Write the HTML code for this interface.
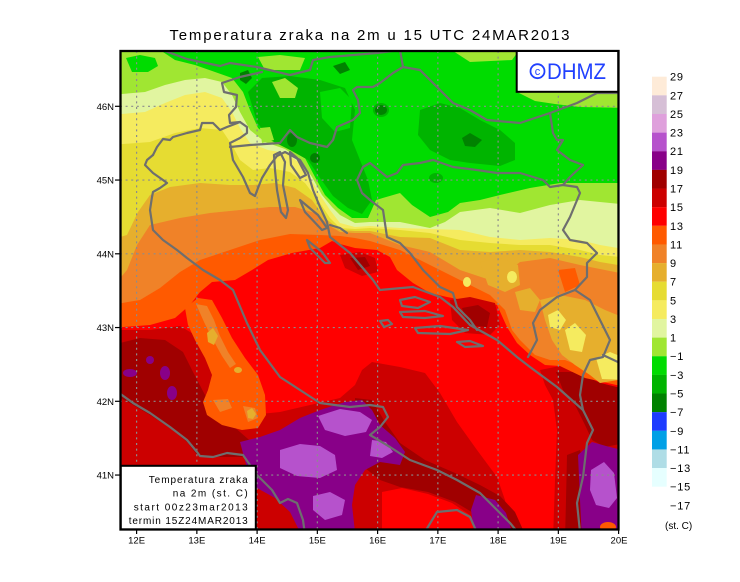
<!DOCTYPE html>
<html><head><meta charset="utf-8"><style>
html,body{margin:0;padding:0;background:#fff;overflow:hidden;width:740px;height:582px}
svg{display:block}
text{font-family:"Liberation Sans",sans-serif;fill:#000}
</style></head><body>
<svg width="740" height="582" viewBox="0 0 740 582" xmlns="http://www.w3.org/2000/svg">
<defs><clipPath id="c"><rect x="120" y="51" width="498" height="478"/></clipPath></defs>
<rect width="740" height="582" fill="#fff"/>
<g clip-path="url(#c)">
<rect x="110" y="40" width="520" height="500" fill="#ff0000"/>
<!-- lower field -->
<polygon fill="#cc0000" points="110,330 150,330 180,326 195,335 205,355 215,380 230,400 250,415 280,412 310,405 340,398 355,385 362,370 372,362 400,367 425,373 440,393 457,422 477,450 497,477 505,500 510,540 110,540"/>
<polygon fill="#a00000" points="120,343 140,338 165,340 183,352 193,372 205,395 220,415 240,432 255,445 245,457 220,457 197,455 187,442 170,428 150,415 133,405 115,395 115,343"/>
<ellipse cx="150" cy="360" rx="4" ry="4" fill="#880088"/>
<ellipse cx="130" cy="373" rx="7" ry="4" fill="#880088"/>
<ellipse cx="165" cy="373" rx="5" ry="7" fill="#880088"/>
<ellipse cx="172" cy="393" rx="5" ry="7" fill="#880088"/>
<polygon fill="#a00000" points="355,398 372,400 385,422 400,443 425,460 455,473 480,485 500,496 515,512 524,532 488,532 475,514 455,502 428,492 400,487 380,480 365,468 355,440"/>
<polygon fill="#ff0000" points="382,492 402,488 428,494 452,503 470,515 482,532 382,532"/>
<polygon fill="#cc0000" points="540,370 560,366 585,378 618,388 630,390 630,462 600,455 585,468 580,540 553,540 555,480 557,430 553,400 545,385"/>
<polygon fill="#a00000" points="556,372 578,372 600,383 630,390 630,442 605,447 592,440 585,425 575,405 563,390"/>
<polygon fill="#a00000" points="567,455 580,450 585,470 582,540 565,540 566,500"/>
<polygon fill="#880088" points="578,455 592,442 606,446 630,452 630,540 582,540 580,500"/>
<polygon fill="#b652cc" points="591,470 604,462 614,473 617,498 609,508 596,505 590,490"/>
<ellipse cx="608" cy="527" rx="8" ry="5" fill="#ff5a00"/>
<polygon fill="#880088" points="240,442 260,437 280,430 300,418 320,410 345,402 362,400 372,410 380,425 395,438 405,452 400,465 380,462 365,470 355,485 352,505 355,532 300,532 290,512 275,498 257,488 247,468"/>
<polygon fill="#880088" points="476,495 495,500 506,513 512,532 474,532 471,510"/>
<polygon fill="#b652cc" points="280,450 300,444 320,446 335,455 337,470 320,478 297,476 280,468"/>
<polygon fill="#b652cc" points="318,416 340,409 360,412 372,420 366,432 345,436 325,430"/>
<polygon fill="#b652cc" points="372,440 386,442 393,452 382,458 370,456"/>
<polygon fill="#b652cc" points="313,496 330,492 345,500 342,515 325,520 313,510"/>
<!-- upper bands -->
<polygon fill="#ff5a00" points="110,40 110,328 150,325 175,318 190,305 200,292 212,282 235,280 252,270 268,260 292,253 320,248 332,241 340,244 355,248 377,250 390,257 397,270 413,283 430,293 447,297 463,300 480,300 497,305 507,327 517,343 530,355 545,365 560,366 585,378 630,388 630,40"/>
<polygon fill="#f08228" points="110,40 110,305 140,300 160,288 180,272 200,260 230,250 260,240 290,234 320,235 340,236 355,238 370,241 400,250 430,265 460,280 490,295 505,310 512,330 520,340 535,355 550,360 565,360 590,370 630,378 630,40"/>
<polygon fill="#e6af2d" points="110,40 110,290 127,270 137,245 150,225 180,218 210,213 240,210 270,207 295,207 315,213 330,226 340,232 355,233 370,233 400,245 430,252 460,270 490,280 510,270 520,262 550,258 580,265 630,275 630,40"/>
<polygon fill="#e6dc32" points="110,40 110,240 127,235 138,212 150,195 170,187 200,183 230,185 253,185 275,183 295,188 312,200 325,218 340,230 355,231 370,231 400,237 430,238 460,250 490,252 520,250 550,252 580,257 600,262 630,267 630,40"/>
<polygon fill="#f5eb5f" points="110,40 110,145 150,142 175,133 200,128 222,130 232,145 240,160 253,170 270,168 290,172 305,183 318,200 330,218 340,228 355,229 370,228 400,230 430,233 460,240 490,243 520,245 550,245 580,250 600,255 630,258 630,40"/>
<polygon fill="#e1f5a0" points="110,40 110,115 145,112 165,103 185,95 205,92 222,98 232,112 240,128 250,143 268,150 285,153 300,163 310,178 320,195 330,210 340,223 355,227 370,226 400,228 430,229 460,230 490,237 520,240 550,238 580,240 600,245 630,250 630,40"/>
<polygon fill="#a0e632" points="110,40 110,95 145,92 165,85 185,80 205,78 222,82 232,95 240,112 250,130 265,142 285,149 300,159 312,177 322,195 332,207 340,215 355,223 370,222 400,222 430,228 445,222 460,212 490,208 520,213 550,205 580,200 600,202 630,205 630,40"/>
<polygon fill="#00dc00" points="160,40 160,50 175,60 195,65 215,72 232,78 243,92 250,110 258,128 270,138 290,145 305,158 315,177 325,195 338,208 352,218 368,218 376,200 400,193 412,205 430,217 448,212 460,203 480,200 500,195 530,188 560,183 630,183 630,40"/>
<polygon fill="#00dc00" points="126,58 140,55 155,58 158,66 148,72 132,72"/>
<polygon fill="#00b400" points="248,92 262,78 290,76 320,80 345,88 355,110 352,140 360,160 368,180 372,200 362,214 348,208 333,196 320,178 308,160 290,150 270,140 257,122"/>
<polygon fill="#00dc00" points="320,92 340,88 352,100 350,128 335,132 322,118"/>
<polygon fill="#00b400" points="420,110 440,103 460,108 480,120 500,130 515,143 515,160 500,166 470,163 450,160 430,150 418,135"/>
<ellipse cx="381" cy="110" rx="8" ry="7" fill="#00b400"/>
<ellipse cx="436" cy="178" rx="7" ry="5" fill="#00b400"/>
<polygon fill="#a0e632" points="258,57 280,55 305,58 300,70 265,70"/>
<polygon fill="#a0e632" points="272,82 285,78 298,88 295,98 280,98"/>
<polygon fill="#a0e632" points="260,128 270,127 274,140 262,143"/>
<polygon fill="#a0e632" points="375,205 395,198 412,205 420,218 400,220 380,220"/>
<polygon fill="#a0e632" points="450,49 520,49 512,60 470,62"/>
<polygon fill="#a0e632" points="517,92 630,92 630,108 580,107 555,104 535,101"/>
<polygon fill="#008200" points="462,138 470,133 482,140 475,147 465,146"/>
<polygon fill="#008200" points="240,73 248,70 252,78 246,84 240,80"/>
<polygon fill="#008200" points="333,66 345,62 350,70 340,74"/>
<ellipse cx="315" cy="158" rx="5" ry="5" fill="#008200"/>
<ellipse cx="292" cy="140" rx="5" ry="7" fill="#008200"/>
<ellipse cx="381" cy="110" rx="6" ry="5" fill="#008200"/>
<!-- patches in orange zone -->
<polygon fill="#e6af2d" points="480,262 500,258 518,265 520,285 505,292 488,285"/>
<polygon fill="#e6af2d" points="515,292 530,288 540,300 535,312 520,310"/>
<polygon fill="#e6af2d" points="540,300 560,295 585,300 605,310 630,320 630,378 600,383 590,375 575,365 562,355 552,340 545,320"/>
<polygon fill="#f5eb5f" points="548,315 558,310 566,320 560,330 550,327"/>
<polygon fill="#f5eb5f" points="565,330 575,323 586,335 582,352 570,350"/>
<polygon fill="#f5eb5f" points="596,358 610,352 630,360 630,380 602,379"/>
<ellipse cx="467" cy="282" rx="4" ry="5" fill="#f5eb5f"/>
<ellipse cx="512" cy="277" rx="5" ry="6" fill="#f5eb5f"/>
<polygon fill="#ff5a00" points="558,270 575,268 580,285 565,292"/>
<polygon fill="#cc0000" points="340,255 360,252 375,258 378,272 362,276 345,268"/>
<polygon fill="#a00000" points="350,258 365,257 370,266 358,270"/>
<polygon fill="#cc0000" points="450,300 470,297 495,303 500,325 490,335 465,333 452,320"/>
<polygon fill="#a00000" points="462,308 478,305 490,313 487,327 468,325"/>
<!-- tongue -->
<polygon fill="#ff5a00" points="185,308 198,298 212,300 222,318 232,338 245,358 258,375 265,395 266,415 258,428 242,430 222,425 207,415 203,402 208,390 212,375 205,358 195,340 188,325"/>
<polygon fill="#f08228" points="196,304 207,306 214,320 220,336 228,352 236,364 230,368 222,356 212,338 204,322"/>
<polygon fill="#f08228" points="213,400 228,399 232,408 220,412"/>
<polygon fill="#f08228" points="243,406 255,408 258,418 248,422"/>
<polygon fill="#e6af2d" points="207,333 213,328 218,336 214,345 208,342"/>
<polygon fill="#e6af2d" points="247,411 252,408 256,414 253,419 248,418"/>
<ellipse cx="238" cy="370" rx="4" ry="3" fill="#e6af2d"/>
<!-- grid -->
<g stroke="#8c8c8c" stroke-width="1.2" stroke-dasharray="2 3.6" fill="none">
<line x1="136.6" y1="51" x2="136.6" y2="529"/><line x1="196.85" y1="51" x2="196.85" y2="529"/>
<line x1="257.1" y1="51" x2="257.1" y2="529"/><line x1="317.35" y1="51" x2="317.35" y2="529"/>
<line x1="377.6" y1="51" x2="377.6" y2="529"/><line x1="437.85" y1="51" x2="437.85" y2="529"/>
<line x1="498.1" y1="51" x2="498.1" y2="529"/><line x1="558.35" y1="51" x2="558.35" y2="529"/>
<line x1="120" y1="106.3" x2="618" y2="106.3"/><line x1="120" y1="180.05" x2="618" y2="180.05"/>
<line x1="120" y1="253.8" x2="618" y2="253.8"/><line x1="120" y1="327.55" x2="618" y2="327.55"/>
<line x1="120" y1="401.3" x2="618" y2="401.3"/><line x1="120" y1="475.05" x2="618" y2="475.05"/>
</g>
<!-- coast & borders -->
<g stroke="#6e6e6e" stroke-width="2.2" fill="none" stroke-linejoin="round" stroke-linecap="round">
<path d="M153,155 L157,147 163,139 170,140 173,137 187,133 200,130 202,123 213,123 220,130 227,127 240,122 247,127 247,133 240,138 230,143 233,160 243,177 250,193 255,196 258,188 262,178 270,165 277,156 285,152 300,160 308,173 313,190 320,207 327,222 330,237 350,253 373,280 380,290 413,287 440,297 453,307 470,325 497,340 517,357 530,367 557,387 583,410 593,430 587,443 583,477 577,503 580,532"/>
<path d="M153,155 L147,160 145,165 153,173 163,180 167,183 160,188 153,192 152,197 150,210 153,230 163,240 177,250 187,258 203,270 220,280 233,290 247,323 260,350 280,377 300,390 320,403 350,407 370,405 383,407 388,417 380,427 370,435 390,447 410,460 437,470 457,480 480,493 497,510 510,523 520,535"/>
<path d="M115,390 L133,403 150,413 170,427 187,440 197,452 200,456 213,457 227,453 243,455 257,475 272,490 280,503 288,499 297,503 303,520 305,535"/>
<path d="M423,535 L437,512 457,510 470,517 478,535"/>
<path d="M157,48 L187,59 220,66 230,63 257,67 290,75 310,70 313,60 330,57 377,53 400,50 403,67 420,70"/>
<path d="M230,147 L250,145 280,143 290,130 297,137 310,143 327,147 333,140 337,127 353,120 360,113 358,100 353,90 357,87 373,87 380,83 393,73 403,67"/>
<path d="M420,70 L430,80 453,103 470,110 487,120 520,123 550,113 577,103 597,93 625,93"/>
<path d="M262,72 L240,77 222,83 224,92 237,95 236,107 229,115 230,123 240,122"/>
<path d="M583,165 L570,177 563,185 550,187 543,180 520,173 497,173 477,170 453,167 433,160 420,163 403,165 397,173 387,177 370,163 363,167 357,180 362,193 370,200 383,210 387,237 400,243 410,253 423,270 440,287 453,293 457,307 470,320 477,330"/>
<path d="M550,113 L553,133 557,140 563,140 557,150 570,160 583,165"/>
<path d="M563,185 L577,187 580,193 570,217 563,230 570,240 587,243 597,253 587,263 587,277 575,290 557,297 540,310 533,323 537,340 528,357"/>
<path d="M575,290 L590,300 600,320 610,340 603,357 590,360 583,375 580,395 583,410"/>
<path d="M603,355 L620,363"/>
<path d="M274,155 L280,152 285,162 283,185 288,210 286,218 281,212 277,190 275,170 Z"/>
<path d="M290,152 L297,158 306,175 300,178 291,165 Z"/>
<path d="M300,200 L318,215 327,228 322,230 305,212 Z"/>
<path d="M307,240 L322,252 330,263 325,263 310,248 Z"/>
<path d="M330,225 L340,228 347,233"/>
<path d="M400,300 L415,297 430,302 418,308 402,306 Z"/>
<path d="M400,312 L425,311 443,316 425,318 403,317 Z"/>
<path d="M380,321 L388,320 392,324 384,327 Z"/>
<path d="M415,328 L440,326 468,330 450,334 418,333 Z"/>
<path d="M457,342 L470,341 483,346 465,347 Z"/>
</g>
</g>
<!-- frame -->
<rect x="120.5" y="51" width="498" height="478.5" fill="none" stroke="#000" stroke-width="2.3"/>
<g stroke="#000" stroke-width="1.2">
<line x1="115" y1="106.3" x2="120" y2="106.3"/><line x1="115" y1="180.05" x2="120" y2="180.05"/>
<line x1="115" y1="253.8" x2="120" y2="253.8"/><line x1="115" y1="327.55" x2="120" y2="327.55"/>
<line x1="115" y1="401.3" x2="120" y2="401.3"/><line x1="115" y1="475.05" x2="120" y2="475.05"/>
<line x1="136.6" y1="530" x2="136.6" y2="534"/><line x1="196.85" y1="530" x2="196.85" y2="534"/>
<line x1="257.1" y1="530" x2="257.1" y2="534"/><line x1="317.35" y1="530" x2="317.35" y2="534"/>
<line x1="377.6" y1="530" x2="377.6" y2="534"/><line x1="437.85" y1="530" x2="437.85" y2="534"/>
<line x1="498.1" y1="530" x2="498.1" y2="534"/><line x1="558.35" y1="530" x2="558.35" y2="534"/>
<line x1="618.6" y1="530" x2="618.6" y2="534"/>
</g>
<g font-size="9.5" text-anchor="end">
<text x="114" y="109.8">46N</text><text x="114" y="183.5">45N</text><text x="114" y="257.3">44N</text>
<text x="114" y="331">43N</text><text x="114" y="404.8">42N</text><text x="114" y="478.5">41N</text>
</g>
<g font-size="9.5" text-anchor="middle">
<text x="136.6" y="543.5">12E</text><text x="196.85" y="543.5">13E</text><text x="257.1" y="543.5">14E</text>
<text x="317.35" y="543.5">15E</text><text x="377.6" y="543.5">16E</text><text x="437.85" y="543.5">17E</text>
<text x="498.1" y="543.5">18E</text><text x="558.35" y="543.5">19E</text><text x="619" y="543.5">20E</text>
</g>
<!-- title -->
<text x="169.5" y="40" font-size="15" textLength="400" lengthAdjust="spacing">Temperatura zraka na 2m u 15 UTC 24MAR2013</text>
<!-- DHMZ box -->
<rect x="516.7" y="51" width="101.5" height="40.8" fill="#fff" stroke="#000" stroke-width="2"/>
<circle cx="537.5" cy="71.2" r="7" fill="none" stroke="#2040ff" stroke-width="1.8"/>
<text x="537.5" y="75" font-size="11" text-anchor="middle" style="fill:#2040ff">c</text>
<text x="547" y="79" font-size="22" textLength="59" lengthAdjust="spacingAndGlyphs" style="fill:#2040ff">DHMZ</text>
<!-- legend box -->
<rect x="120.8" y="465.8" width="135" height="63.5" fill="#fff" stroke="#000" stroke-width="2"/>
<g font-size="10" text-anchor="end">
<text x="247.7" y="483" textLength="99" lengthAdjust="spacing">Temperatura zraka</text>
<text x="247.7" y="496.7" textLength="75" lengthAdjust="spacing">na 2m (st. C)</text>
<text x="247.7" y="510.5" textLength="114" lengthAdjust="spacing">start 00z23mar2013</text>
<text x="247.7" y="524" textLength="119" lengthAdjust="spacing">termin 15Z24MAR2013</text>
</g>
<!-- colorbar -->
<g>
<rect x="652" y="76.70" width="14.7" height="18.7" fill="#feebd8"/>
<rect x="652" y="95.34" width="14.7" height="18.7" fill="#d6bfd6"/>
<rect x="652" y="113.97" width="14.7" height="18.7" fill="#dfa0dc"/>
<rect x="652" y="132.61" width="14.7" height="18.7" fill="#b652cc"/>
<rect x="652" y="151.24" width="14.7" height="18.7" fill="#880088"/>
<rect x="652" y="169.88" width="14.7" height="18.7" fill="#a00000"/>
<rect x="652" y="188.52" width="14.7" height="18.7" fill="#cc0000"/>
<rect x="652" y="207.15" width="14.7" height="18.7" fill="#ff0000"/>
<rect x="652" y="225.79" width="14.7" height="18.7" fill="#ff5a00"/>
<rect x="652" y="244.42" width="14.7" height="18.7" fill="#f08228"/>
<rect x="652" y="263.06" width="14.7" height="18.7" fill="#e6af2d"/>
<rect x="652" y="281.70" width="14.7" height="18.7" fill="#e6dc32"/>
<rect x="652" y="300.33" width="14.7" height="18.7" fill="#f5eb5f"/>
<rect x="652" y="318.97" width="14.7" height="18.7" fill="#e1f5a0"/>
<rect x="652" y="337.60" width="14.7" height="18.7" fill="#a0e632"/>
<rect x="652" y="356.24" width="14.7" height="18.7" fill="#00dc00"/>
<rect x="652" y="374.88" width="14.7" height="18.7" fill="#00b400"/>
<rect x="652" y="393.51" width="14.7" height="18.7" fill="#008200"/>
<rect x="652" y="412.15" width="14.7" height="18.7" fill="#1e3cff"/>
<rect x="652" y="430.78" width="14.7" height="18.7" fill="#00a0e6"/>
<rect x="652" y="449.42" width="14.7" height="18.7" fill="#afdde6"/>
<rect x="652" y="468.06" width="14.7" height="18.6" fill="#e6ffff"/>
</g>
<g font-size="11" letter-spacing="0.8">
<text x="670" y="80.7">29</text><text x="670" y="99.3">27</text><text x="670" y="118">25</text>
<text x="670" y="136.6">23</text><text x="670" y="155.2">21</text><text x="670" y="173.9">19</text>
<text x="670" y="192.5">17</text><text x="670" y="211.2">15</text><text x="670" y="229.8">13</text>
<text x="670" y="248.4">11</text><text x="670" y="267.1">9</text><text x="670" y="285.7">7</text>
<text x="670" y="304.3">5</text><text x="670" y="323">3</text><text x="670" y="341.6">1</text>
<text x="670" y="360.2">−1</text><text x="670" y="378.9">−3</text><text x="670" y="397.5">−5</text>
<text x="670" y="416.2">−7</text><text x="670" y="434.8">−9</text><text x="670" y="453.4">−11</text>
<text x="670" y="472.1">−13</text><text x="670" y="490.7">−15</text><text x="670" y="509.3">−17</text>
</g>
<text x="665" y="529" font-size="10">(st. C)</text>
</svg>
</body></html>
